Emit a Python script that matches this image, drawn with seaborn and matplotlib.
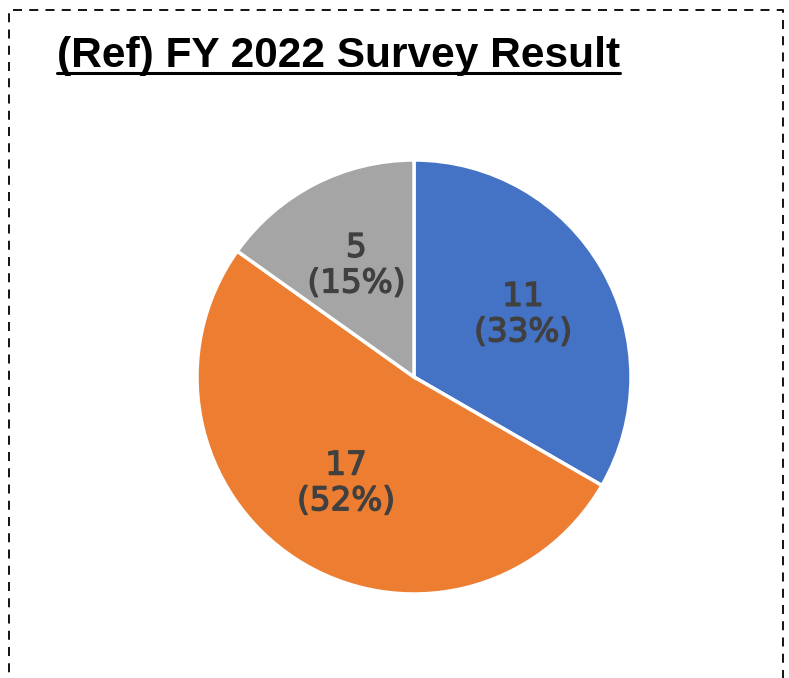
import matplotlib
matplotlib.use("Agg")
import matplotlib.pyplot as plt
import matplotlib.patches as mpatches
import matplotlib.patheffects as pe
import seaborn as sns

counts = [11, 17, 5]
categories = ["A", "B", "C"]
colors = ["#4472C4", "#ED7D31", "#A5A5A5"]
title = "(Ref) FY 2022 Survey Result"

sns.set_theme(style="white")
plt.rcParams["font.family"] = ["Liberation Sans", "DejaVu Sans"]

fig = plt.figure(figsize=(7.89, 6.78), dpi=100)
fig.patch.set_facecolor("white")

# dashed frame (bottom edge runs off the picture)
frame = mpatches.Rectangle((9 / 789, -0.05), 774 / 789, 1.05 - 10 / 678,
                           transform=fig.transFigure, fill=False,
                           edgecolor="black", linewidth=1.3,
                           linestyle=(0, (5, 4)), clip_on=False)
fig.patches.append(frame)

total = sum(counts)


def fmt(pct):
    n = int(round(pct * total / 100))
    return f"{n}\n({pct:.0f}%)"


label_color = "#404040"
ax = fig.add_axes([197 / 789, 84 / 678, 434 / 789, 434 / 678])
wedges, texts, autotexts = ax.pie(counts, colors=colors, startangle=90,
                                  counterclock=False, autopct=fmt,
                                  pctdistance=0.58,
                                  wedgeprops=dict(edgecolor="white", linewidth=2.5),
                                  textprops=dict(color=label_color, fontsize=23.5,
                                                 linespacing=1.1,
                                                 family=["DejaVu Sans"]))
# labels in the reference are a little heavier than regular weight
for at in autotexts:
    at.set_path_effects([pe.withStroke(linewidth=1.0, foreground=label_color)])

ax.set_xlim(-1, 1)
ax.set_ylim(-1, 1)
ax.set_aspect("equal")

t = fig.text(57 / 789, 1 - 67 / 678, title, fontsize=30.5, fontweight="bold",
             ha="left", va="baseline", color="black")

# underline the title
fig.canvas.draw()
bb = t.get_window_extent().transformed(fig.transFigure.inverted())
y_ul = 1 - 73 / 678
fig.add_artist(plt.Line2D([bb.x0, bb.x1], [y_ul, y_ul], transform=fig.transFigure,
                          color="black", linewidth=2.2))

fig.savefig("out.png", dpi=100, facecolor="white")
